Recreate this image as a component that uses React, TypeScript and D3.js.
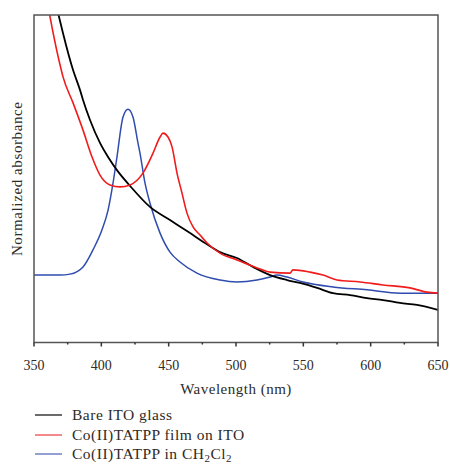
import React from "react";
import * as d3 from "d3";

const bareNm = [366, 368.6, 371.5, 379, 384.2, 386.4, 391.6, 399, 405, 411.6, 421.3, 436.1, 451, 465.9, 477, 488.1, 500.7, 512.6, 525.3, 537.9, 547.5, 560.2, 572, 584.7, 597.3, 609.2, 621.8, 634.4, 650];
const bareAbs = [1.04, 0.994, 0.945, 0.832, 0.771, 0.741, 0.68, 0.61, 0.567, 0.527, 0.479, 0.415, 0.375, 0.335, 0.305, 0.277, 0.259, 0.232, 0.207, 0.192, 0.183, 0.168, 0.152, 0.146, 0.137, 0.131, 0.122, 0.116, 0.101];

const filmNm = [359, 361.9, 370.8, 371.5, 379, 386.4, 393.1, 399, 406.4, 413.9, 421.3, 430.9, 438.4, 443.6, 445.8, 449.5, 452.5, 456.2, 459.9, 463.6, 468.1, 473.3, 478.5, 488.1, 500.7, 515.6, 525.3, 540.1, 542.3, 555, 564.6, 575, 592.1, 609.2, 629.2, 641.8, 650];
const filmAbs = [1.06, 0.994, 0.823, 0.812, 0.732, 0.649, 0.567, 0.512, 0.482, 0.476, 0.482, 0.518, 0.579, 0.628, 0.64, 0.628, 0.598, 0.518, 0.457, 0.396, 0.354, 0.329, 0.305, 0.274, 0.253, 0.229, 0.216, 0.213, 0.223, 0.216, 0.207, 0.192, 0.186, 0.177, 0.168, 0.155, 0.152];

const solNm = [350, 369.3, 376.7, 386.4, 393.8, 400.5, 405, 408.7, 411.6, 416.1, 419.8, 423.5, 427.2, 428.7, 432.4, 436.1, 443.6, 451, 458.4, 471, 488.1, 500.7, 515.6, 525.3, 530.5, 537.9, 549.8, 572, 597.3, 621.8, 650];
const solAbs = [0.207, 0.207, 0.21, 0.232, 0.284, 0.345, 0.405, 0.488, 0.567, 0.689, 0.713, 0.689, 0.61, 0.579, 0.488, 0.427, 0.335, 0.277, 0.247, 0.213, 0.192, 0.186, 0.192, 0.201, 0.207, 0.201, 0.186, 0.171, 0.162, 0.152, 0.152];

const majorTicks = [350, 400, 450, 500, 550, 600, 650];
const minorTicks = [375, 425, 475, 525, 575, 625];

const seriesNames = ["Bare ITO glass", "Co(II)TATPP film on ITO", "Co(II)TATPP in CH2Cl2"];
const seriesColors = ["#000000", "#f01c1c", "#2f4cae"];
const legendColors = ["#3a3a3a", "#f26060", "#7080c4"];

const W = 450, H = 464;
const L = 34, R = 438, T = 15, B = 342.5;
const FONT = "'Liberation Serif', 'Times New Roman', serif";
const TXT = "#2e2a26";

export default function App() {
  const x = d3.scaleLinear().domain([350, 650]).range([L, R]);
  const y = d3.scaleLinear().domain([0, 1]).range([343, 15]);
  const line = d3.line<[number, number]>().x(d => x(d[0])).y(d => y(d[1])).curve(d3.curveMonotoneX);
  const series = [
    d3.zip(bareNm, bareAbs) as [number, number][],
    d3.zip(filmNm, filmAbs) as [number, number][],
    d3.zip(solNm, solAbs) as [number, number][],
  ];
  const legendY = [415, 435, 454];
  return (
    <svg width={W} height={H} style={{ position: "absolute", left: 0, top: 0 }}>
      <defs>
        <clipPath id="plotclip">
          <rect x={L} y={T} width={R - L} height={B - T} />
        </clipPath>
      </defs>
      <rect x={0} y={0} width={W} height={H} fill="#fff" />
      <g clipPath="url(#plotclip)" fill="none" strokeLinejoin="round">
        <path d={line(series[2]) || ""} stroke={seriesColors[2]} strokeWidth={1.5} />
        <path d={line(series[0]) || ""} stroke={seriesColors[0]} strokeWidth={1.8} />
        <path d={line(series[1]) || ""} stroke={seriesColors[1]} strokeWidth={1.6} />
      </g>
      <rect x={L} y={T} width={R - L} height={B - T} fill="none" stroke="#555" strokeWidth={1.5} />
      {majorTicks.map(t => (
        <g key={t}>
          <line x1={x(t)} x2={x(t)} y1={B} y2={B + 4} stroke="#333" strokeWidth={1.5} />
          <text x={x(t)} y={370} textAnchor="middle" fontFamily={FONT} fontSize={14} fill={TXT}>{t}</text>
        </g>
      ))}
      {minorTicks.map(t => (
        <line key={t} x1={x(t)} x2={x(t)} y1={B} y2={B + 2} stroke="#333" strokeWidth={1.5} />
      ))}
      <text x={(L + R) / 2} y={394} textAnchor="middle" fontFamily={FONT} fontSize={15} letterSpacing={0.5} fill={TXT}>Wavelength (nm)</text>
      <text transform={`translate(22,${(T + B) / 2}) rotate(-90)`} textAnchor="middle" fontFamily={FONT} fontSize={15} letterSpacing={0.6} fill={TXT}>Normalized absorbance</text>
      {seriesNames.map((n, i) => (
        <g key={n}>
          <line x1={35} x2={62} y1={legendY[i]} y2={legendY[i]} stroke={legendColors[i]} strokeWidth={1.5} />
          <text x={72} y={legendY[i] + 5} fontFamily={FONT} fontSize={15.5} letterSpacing={0.5} fill={TXT}>
            {i === 2 ? (
              <>
                Co(II)TATPP in CH<tspan fontSize={11} dy={2.5}>2</tspan><tspan dy={-2.5}>Cl</tspan><tspan fontSize={11} dy={2.5}>2</tspan>
              </>
            ) : n}
          </text>
        </g>
      ))}
    </svg>
  );
}
